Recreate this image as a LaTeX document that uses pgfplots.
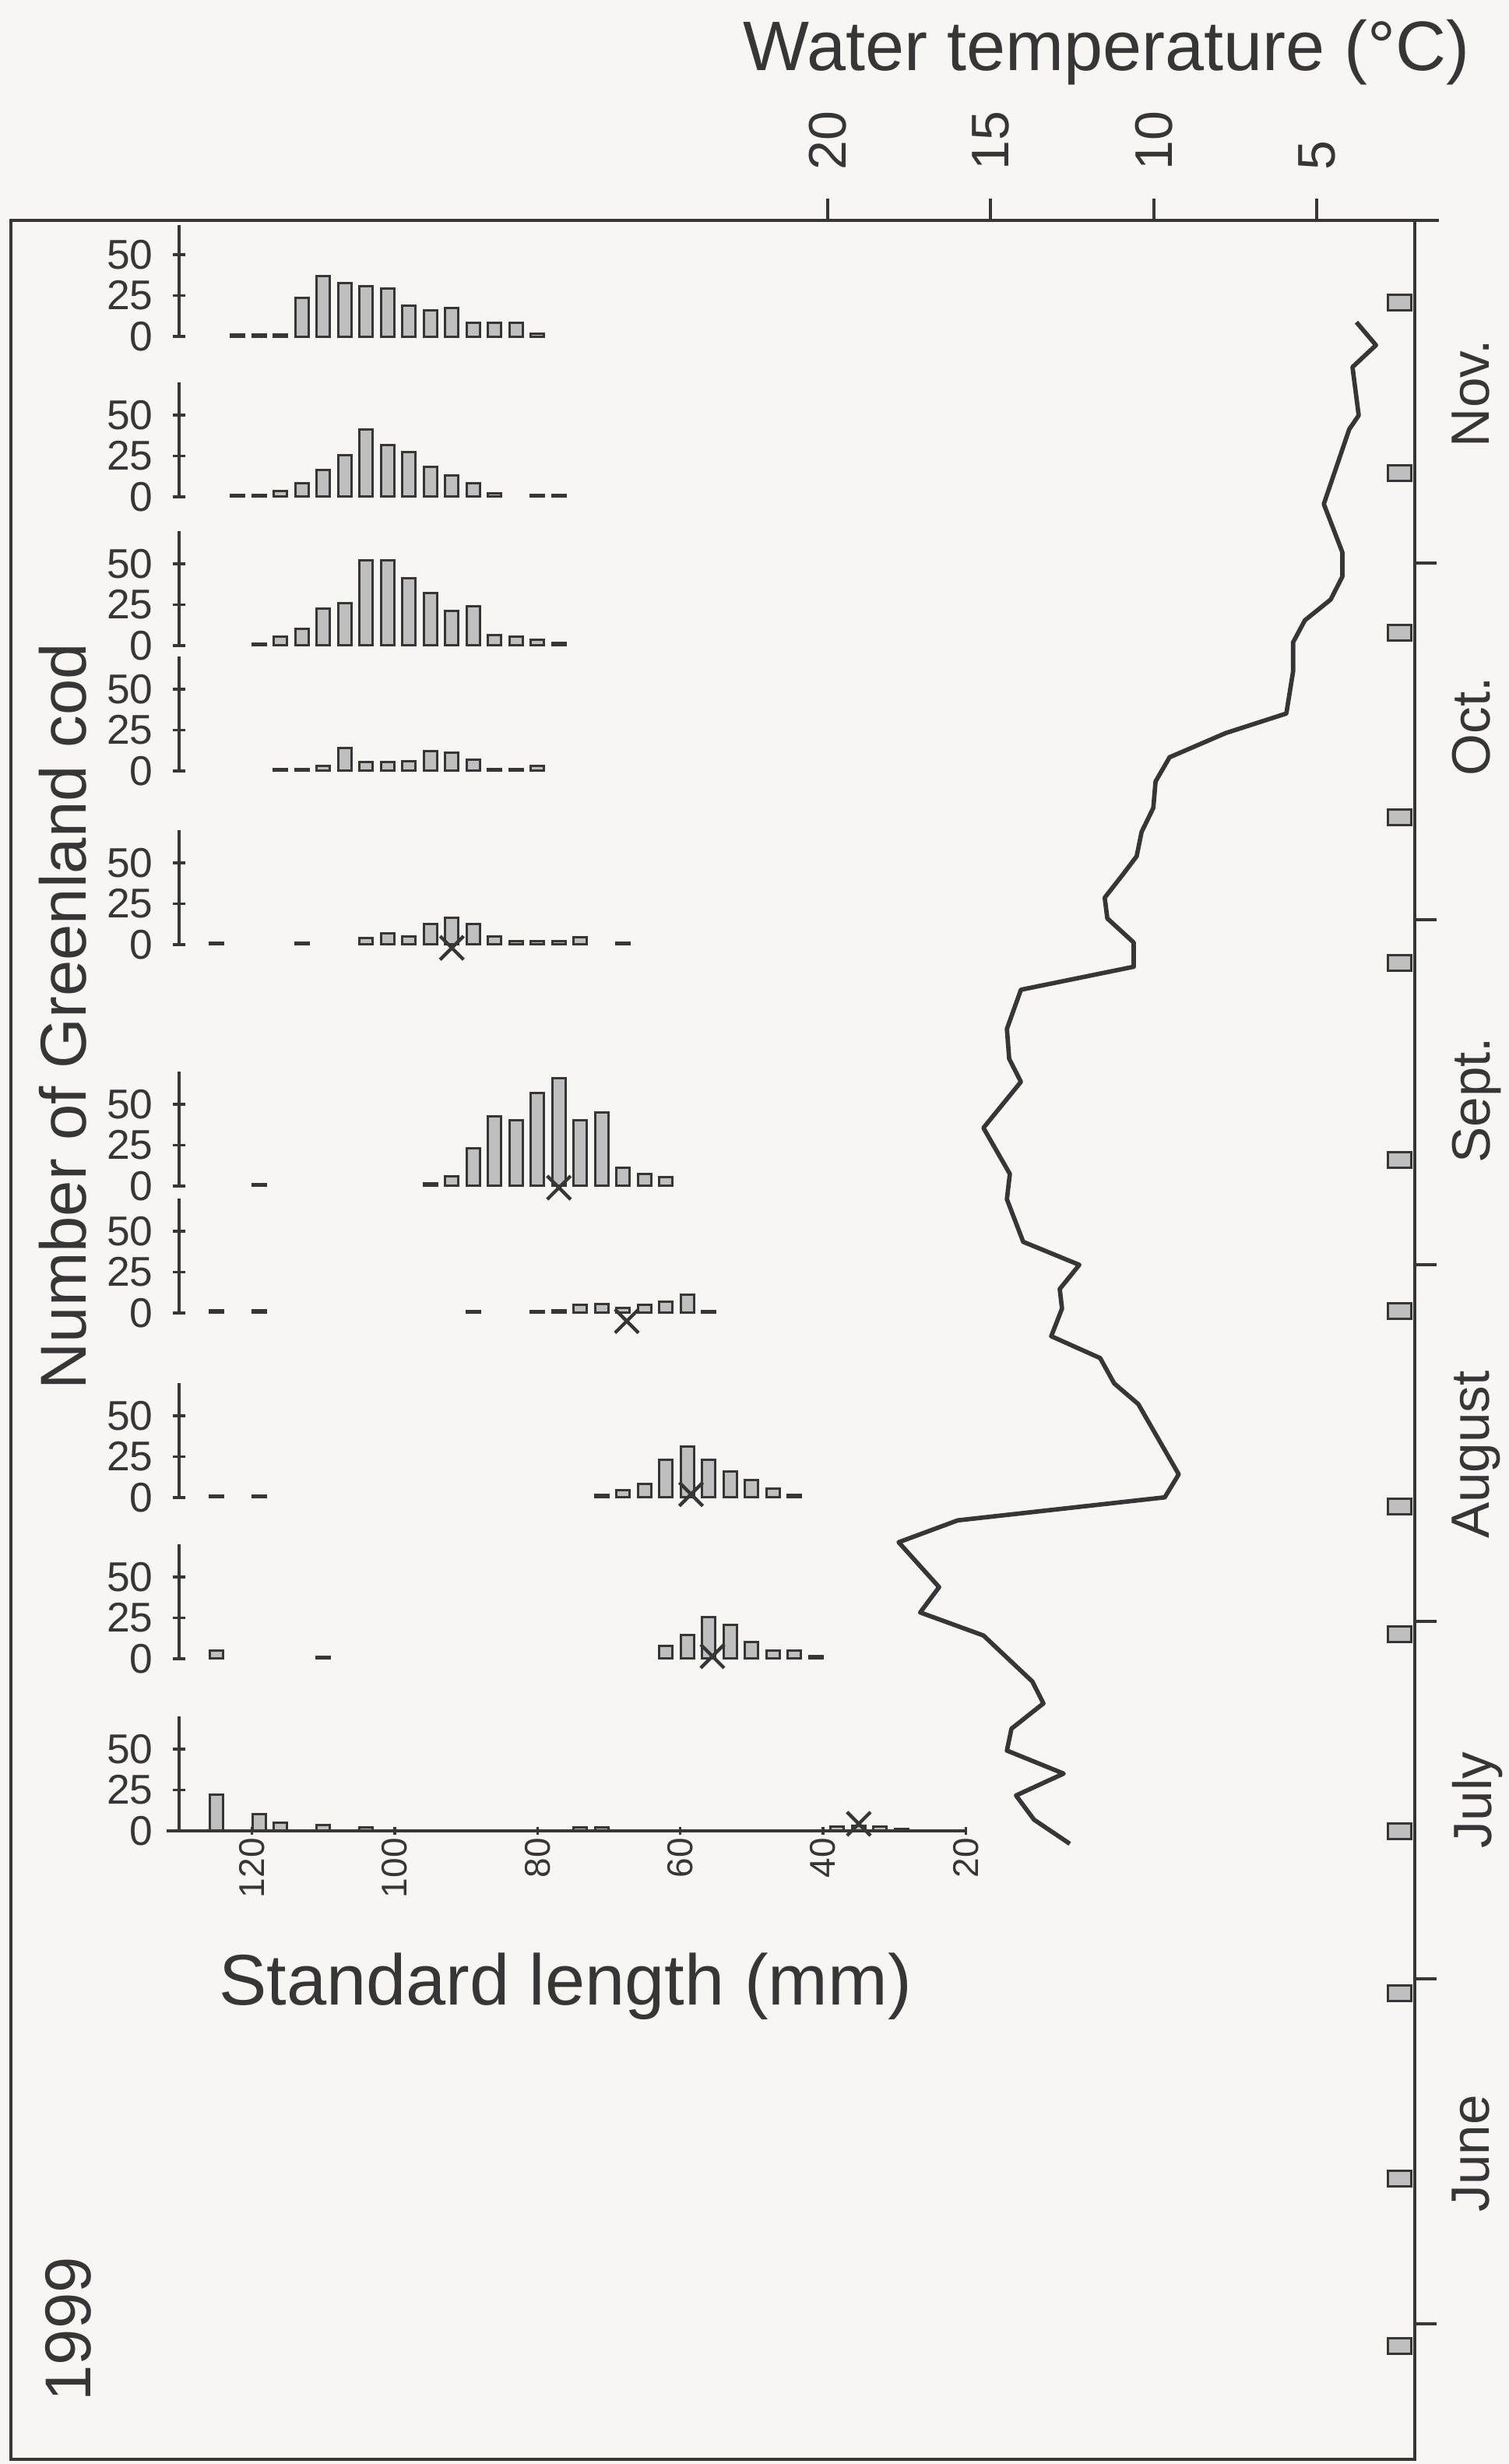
\documentclass[border=0pt]{standalone}
\usepackage{fontspec}
\setmainfont{Liberation Sans}
\usepackage{pgfplots}
\pgfplotsset{compat=1.18}
\definecolor{ink}{HTML}{363636}
\definecolor{paper}{HTML}{F7F6F2}
\definecolor{barfill}{HTML}{BFBFBF}

% 1 px of the reference = 0.15pt
\pgfplotsset{
  histbase/.style={
    scale only axis, width=151.58pt, height=22.05pt,
    xmin=20, xmax=130.2, x dir=reverse, ymin=0, ymax=70,
    clip=false,
    ytick={0,25,50}, tick align=outside, major tick length=2.4pt,
    tick style={ink, line width=0.5pt},
    yticklabel style={font=\fontsize{8}{8}\selectfont, text=ink, inner sep=0pt, xshift=-3.6pt},
    /pgf/number format/assume math mode=true,
  },
  hist/.style={histbase, axis y line=left, axis x line=none, xtick=\empty,
    axis line style={-, ink, line width=0.5pt}},
  bars/.style={ybar, bar width=1.85, fill=barfill, draw=ink, line width=0.45pt},
  cross/.style={only marks, mark=x, mark size=3.2pt, mark options={ink, line width=0.65pt}},
}

\begin{document}
\begin{tikzpicture}
\useasboundingbox (0,0) rectangle (290.7pt,-474.6pt);
\fill[paper] (0,0) rectangle (290.7pt,-474.6pt);

% main frame: water temperature against date
\begin{axis}[
  at={(14*0.15pt,-3158*0.15pt)}, anchor=south west,
  scale only axis, width=270.45pt, height=431.25pt,
  x dir=reverse, xmin=1.99, xmax=45.05, ymin=140.23, ymax=334.75,
  axis line style={ink, line width=0.7pt},
  tick pos=right, ticklabel pos=right,
  tick align=outside, major tick length=0pt, minor tick length=4.2pt,
  tick style={ink, line width=0.6pt},
  xtick={5,10,15,20}, minor xtick={5,10,15,20},
  ytick={166.8,197.5,227.5,258.3,290.8,319.7},
  yticklabels={June,July,August,Sept.,Oct.,Nov.},
  minor ytick={152,182,213,244,274,305},
  xticklabel style={rotate=90, anchor=west, inner sep=9.5pt, font=\fontsize{10.2}{10.2}\selectfont, text=ink},
  yticklabel style={rotate=90, anchor=north, inner sep=7pt, font=\fontsize{10.4}{10.4}\selectfont, text=ink},
  /pgf/number format/assume math mode=true,
  clip=false,
]
\addplot[ink, line width=0.85pt, line join=round] coordinates {
(3.78,325.9) (3.18,323.9) (3.90,322.0) (3.71,317.8) (4.00,316.6) (4.78,310.1)
(4.21,305.9) (4.21,303.8) (4.57,301.8) (5.36,300.0) (5.72,298.1) (5.72,295.6)
(5.93,291.9) (7.79,290.2) (9.51,288.1) (9.94,286.0) (10.01,283.7) (10.37,281.6)
(10.52,279.5) (10.92,278.0) (11.50,275.9) (11.42,274.1) (10.61,272.0) (10.61,269.9)
(14.07,267.9) (14.50,264.5) (14.43,261.9) (14.07,259.9) (15.22,255.9) (14.41,251.9)
(14.50,249.7) (14.00,246.0) (12.28,244.0) (12.88,241.9) (12.81,240.2) (13.14,237.8)
(11.64,235.9) (11.21,233.7) (10.47,231.9) (9.23,225.8) (9.66,223.8) (16.01,221.8)
(17.82,219.9) (16.58,216.0) (17.16,213.8) (15.22,211.8) (13.72,207.8) (13.38,205.9)
(14.36,203.7) (14.50,201.8) (12.76,199.8) (14.22,197.9) (13.67,195.8) (12.57,193.7)
};
\addplot[only marks, mark=square*, mark size=1.5pt,
  mark options={xscale=1.5, fill=barfill, draw=ink, line width=0.45pt}] coordinates {
(2.455,327.6) (2.455,312.8) (2.455,298.9) (2.455,282.9) (2.455,270.2) (2.455,253.1)
(2.455,240.0) (2.455,223.0) (2.455,211.9) (2.455,194.8) (2.455,180.7) (2.455,164.6)
(2.455,150.1)
};
\draw[ink, line width=0.7pt] (axis cs:1.99,334.75) -- (axis cs:1.25,334.75);
\end{axis}

% length-frequency histograms, top to bottom
\begin{axis}[hist, at={(230*0.15pt,-432*0.15pt)}, anchor=south west, ymax=68, height=21.42pt]
\addplot[bars] coordinates {(122,1) (119,1) (116,1) (113,23.5) (110,37) (107,32.5) (104,30.5)
 (101,29.5) (98,19) (95,16) (92,17.5) (89,8.5) (86,8.5) (83,8.5) (80,1.5)};
\end{axis}

\begin{axis}[hist, at={(230*0.15pt,-638*0.15pt)}, anchor=south west]
\addplot[bars] coordinates {(122,1) (119,1) (116,3.5) (113,8.5) (110,16.5) (107,25.5) (104,41)
 (101,31.5) (98,27.5) (95,18.5) (92,13) (89,8.5) (86,2) (80,1) (77,1)};
\end{axis}

\begin{axis}[hist, at={(230*0.15pt,-829*0.15pt)}, anchor=south west]
\addplot[bars] coordinates {(119,1) (116,5.5) (113,10) (110,22.5) (107,26) (104,52) (101,52)
 (98,41) (95,32) (92,21) (89,24) (86,6.5) (83,5.5) (80,3.5) (77,1.5)};
\end{axis}

\begin{axis}[hist, at={(230*0.15pt,-990*0.15pt)}, anchor=south west]
\addplot[bars] coordinates {(116,1) (113,1) (110,3) (107,14) (104,5.5) (101,5.5) (98,6)
 (95,12) (92,11) (89,7) (86,1.3) (83,1) (80,3.3)};
\end{axis}

\begin{axis}[hist, at={(230*0.15pt,-1213*0.15pt)}, anchor=south west]
\addplot[bars] coordinates {(125,1) (113,1) (104,4) (101,7) (98,5) (95,12.5) (92,16.5)
 (89,12.5) (86,5) (83,2) (80,2) (77,2) (74,4.5) (68,1)};
\addplot[cross] coordinates {(92,-2)};
\end{axis}

\begin{axis}[hist, at={(230*0.15pt,-1523*0.15pt)}, anchor=south west]
\addplot[bars] coordinates {(119,1) (95,1.5) (92,6) (89,23) (86,42.5) (83,40) (80,57)
 (77,66) (74,40) (71,45) (68,11) (65,7.5) (62,5.5)};
\addplot[cross] coordinates {(77,-1)};
\end{axis}

\begin{axis}[hist, at={(230*0.15pt,-1686*0.15pt)}, anchor=south west]
\addplot[bars] coordinates {(125,1.5) (119,1.5) (89,1) (80,1) (77,1.5) (74,5) (71,5.5)
 (68,3) (65,5) (62,7) (59,11) (56,1)};
\addplot[cross] coordinates {(67.5,-5)};
\end{axis}

\begin{axis}[hist, at={(230*0.15pt,-1923*0.15pt)}, anchor=south west]
\addplot[bars] coordinates {(125,1) (119,1) (71,1.5) (68,4.3) (65,8.5) (62,23) (59,31)
 (56,23) (53,16) (50,10.7) (47,5.3) (44,1.5)};
\addplot[cross] coordinates {(58.5,2)};
\end{axis}

\begin{axis}[hist, at={(230*0.15pt,-2130*0.15pt)}, anchor=south west]
\addplot[bars] coordinates {(125,5) (110,1) (62,7.7) (59,14.5) (56,25.5) (53,20.6) (50,10)
 (47,4.8) (44,4.8) (41,1.5)};
\addplot[cross] coordinates {(55.5,1.5)};
\end{axis}

\begin{axis}[histbase, at={(230*0.15pt,-2351*0.15pt)}, anchor=south west,
  axis lines=left, axis line style={-, ink, line width=0.5pt},
  xtick={20,40,60,80,100,120},
  xtick style={/pgfplots/major tick length=1.6pt},
  xticklabel style={rotate=90, anchor=east, inner sep=0pt,
    font=\fontsize{6.9}{6.9}\selectfont, text=ink}]
\draw[ink, line width=0.7pt] ([xshift=-2.4pt]axis cs:130.2,0) -- (axis cs:20,0);
\addplot[bars] coordinates {(125,22.3) (119,10) (116,5) (110,3.7) (104,2) (74,2) (71,2)
 (38,2.8) (35,3) (32,2.8) (29,1)};
\addplot[cross] coordinates {(35,4.3)};
\end{axis}

\node[anchor=base, font=\fontsize{13.5}{13.5}\selectfont, text=ink] at (1421*0.15pt,-90*0.15pt) {Water temperature (°C)};
\node[anchor=base, font=\fontsize{13.8}{13.8}\selectfont, text=ink] at (726*0.15pt,-2575*0.15pt) {Standard length (mm)};
\node[rotate=90, anchor=base, font=\fontsize{12.5}{12.5}\selectfont, text=ink] at (111*0.15pt,-1305*0.15pt) {Number of Greenland cod};
\node[rotate=90, anchor=base, font=\fontsize{12.5}{12.5}\selectfont, text=ink] at (117*0.15pt,-2991*0.15pt) {1999};
\end{tikzpicture}
\end{document}
